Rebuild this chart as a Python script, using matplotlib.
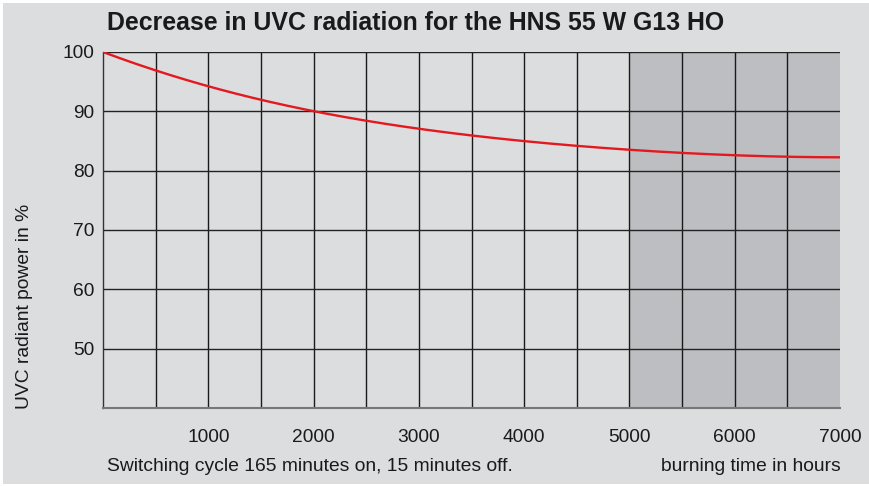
import matplotlib
matplotlib.use("Agg")
import matplotlib.pyplot as plt
from matplotlib.patches import Rectangle
import numpy as np

plt.rcParams['font.family'] = ['Liberation Sans', 'DejaVu Sans']

hours = [0, 500, 1000, 1500, 2000, 2500, 3000, 3500, 4000, 4500, 5000, 5500, 6000, 6500, 7000]
power = [100, 96.9, 94.2, 92.0, 90.0, 88.4, 87.1, 85.9, 85.0, 84.2, 83.5, 83.0, 82.6, 82.35, 82.25]
x_ticks = [1000, 2000, 3000, 4000, 5000, 6000, 7000]
y_ticks = [50, 60, 70, 80, 90, 100]

W, H = 869, 486
fig = plt.figure(figsize=(W / 100, H / 100), dpi=100, facecolor='white')
fig.patches.append(Rectangle((3 / W, 2 / H), 1 - 3 / W, 1 - 5 / H, transform=fig.transFigure,
                             facecolor='#dcdddf', edgecolor='none', zorder=-10))

ax = fig.add_axes([103 / W, 1 - 408 / H, (840 - 103) / W, (408 - 52) / H])
ax.set_facecolor('#dcdddf')
ax.set_xlim(0, 7000)
ax.set_ylim(40, 100)

ax.axvspan(5000, 7000, color='#bdbec1', zorder=0, lw=0)

for xv in np.arange(500, 7000, 500):
    ax.axvline(xv, color='#1a1a1a', lw=1.0, zorder=1)
for yv in y_ticks:
    ax.axhline(yv, color='#222222', lw=1.0, zorder=1)

# smooth curve through read points
xs = np.linspace(0, 7000, 400)
coef = np.polyfit(hours, power, 6)
ys = np.polyval(coef, xs)
ax.plot(xs, ys, color='#e3191f', lw=1.7, zorder=3, solid_capstyle='butt')

ax.set_xticks(x_ticks)
ax.set_yticks(y_ticks)
ax.set_yticklabels([str(v) for v in y_ticks])
ax.tick_params(axis='both', length=0, labelsize=13.8, colors='#1a1a1a')
ax.tick_params(axis='x', pad=15)
ax.tick_params(axis='y', pad=6)

for s in ['top', 'right']:
    ax.spines[s].set_visible(False)
ax.spines['left'].set_color('#333333')
ax.spines['left'].set_linewidth(1.0)
ax.spines['bottom'].set_color('#777777')
ax.spines['bottom'].set_linewidth(1.5)

fig.text(107 / W, 1 - 23 / H, 'Decrease in UVC radiation for the HNS 55 W G13 HO',
         fontsize=17.9, fontweight='bold', ha='left', va='center', color='#1a1a1a')
fig.text(25 / W, 1 - 306 / H, 'UVC radiant power in %', rotation=90, fontsize=13.9,
         ha='center', va='center', color='#1a1a1a')
fig.text(107 / W, 1 - 466 / H, 'Switching cycle 165 minutes on, 15 minutes off.',
         fontsize=13.9, ha='left', va='center', color='#1a1a1a')
fig.text(841 / W, 1 - 466 / H, 'burning time in hours',
         fontsize=13.9, ha='right', va='center', color='#1a1a1a')

fig.savefig('out.png', dpi=100, facecolor=fig.get_facecolor())
